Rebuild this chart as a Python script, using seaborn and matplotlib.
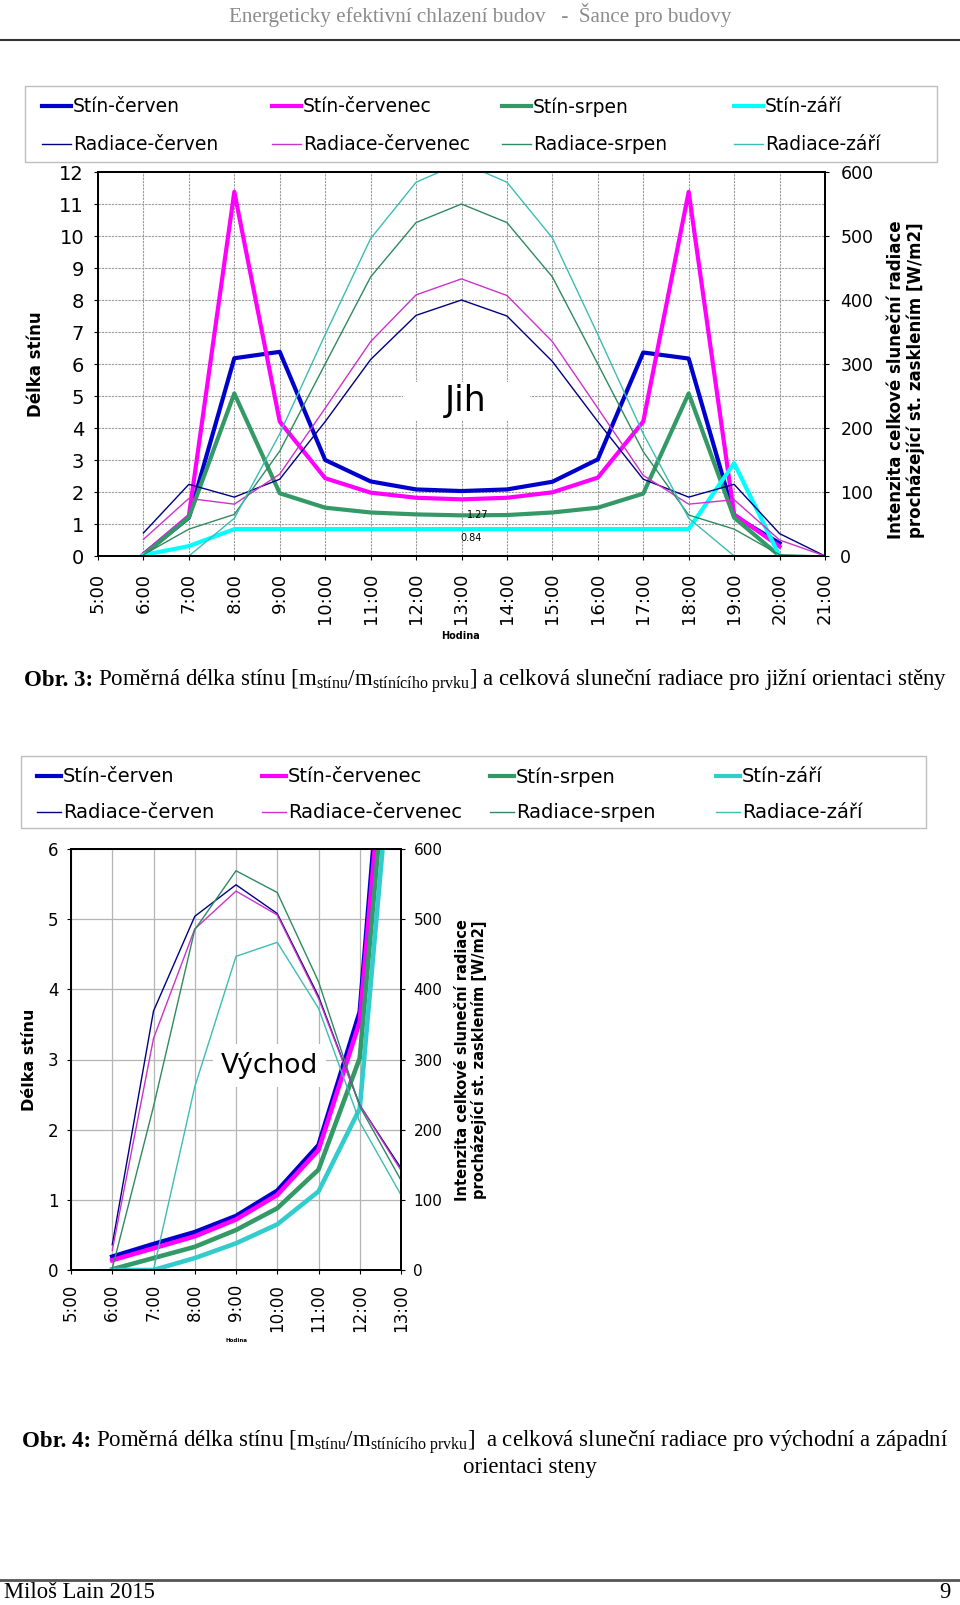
import matplotlib
matplotlib.use("Agg")
import matplotlib.pyplot as plt
import seaborn as sns
from matplotlib.lines import Line2D
from matplotlib.patches import Rectangle

# ---------------- data ----------------
hours_top = list(range(5, 22))
hour_labels_top = [f"{h}:00" for h in hours_top]
stin_hours_top = list(range(6, 21))
rad_hours_top = list(range(6, 22))

# Jih (south) - shadow length [-]
stin_cerven_jih = [0.05, 1.2, 6.18, 6.38, 3.0, 2.33, 2.08, 2.03, 2.08, 2.32, 3.02, 6.36, 6.17, 1.25, 0.4]
stin_cervenec_jih = [0.05, 1.25, 11.38, 4.2, 2.43, 1.98, 1.82, 1.77, 1.82, 1.99, 2.45, 4.2, 11.38, 1.3, 0.3]
stin_srpen_jih = [0.03, 1.21, 5.08, 1.96, 1.51, 1.36, 1.30, 1.27, 1.28, 1.36, 1.51, 1.95, 5.08, 1.2, 0.0]
stin_zari_jih = [0.03, 0.31, 0.84, 0.84, 0.84, 0.84, 0.84, 0.84, 0.84, 0.84, 0.84, 0.84, 0.84, 2.9, 0.0]
# Jih - radiation [W/m2]
rad_cerven_jih = [36, 112, 92, 120, 210, 307, 376, 400, 375, 304, 210, 120, 92, 112, 35, 0]
rad_cervenec_jih = [26, 90, 81, 128, 231, 335, 408, 433, 407, 335, 231, 126, 81, 88, 25, 0]
rad_srpen_jih = [2, 42, 65, 164, 300, 436, 521, 550, 521, 436, 300, 163, 64, 42, 2, 0]
rad_zari_jih = [0, 0, 59, 191, 346, 496, 584, 615, 584, 497, 346, 191, 59, 0, 0, 0]

hours_bot = list(range(5, 14))
hour_labels_bot = [f"{h}:00" for h in hours_bot]
data_hours_bot = list(range(6, 14))
# Vychod (east)
stin_cerven_vych = [0.19, 0.37, 0.54, 0.77, 1.13, 1.78, 3.68, 10.8]
stin_cervenec_vych = [0.14, 0.31, 0.48, 0.72, 1.07, 1.71, 3.54, 10.3]
stin_srpen_vych = [0.01, 0.17, 0.33, 0.57, 0.88, 1.43, 3.02, 9.7]
stin_zari_vych = [0.0, 0.0, 0.17, 0.38, 0.65, 1.12, 2.3, 9.0]
rad_cerven_vych = [36, 369, 504, 549, 508, 390, 235, 145]
rad_cervenec_vych = [28, 330, 486, 540, 506, 387, 235, 142]
rad_srpen_vych = [2, 233, 485, 569, 538, 411, 233, 128]
rad_zari_vych = [0, 0, 261, 447, 467, 373, 211, 107]

months = ["červen", "červenec", "srpen", "září"]

# ---------------- style ----------------
plt.rcParams["font.family"] = ["DejaVu Sans"]
plt.rcParams["mathtext.fontset"] = "custom"
plt.rcParams["mathtext.rm"] = "Liberation Serif"
plt.rcParams["mathtext.it"] = "Liberation Serif:italic"
plt.rcParams["mathtext.bf"] = "Liberation Serif:bold"

W, H = 960, 1605
fig = plt.figure(figsize=(W / 100, H / 100), dpi=100)
fig.patch.set_facecolor("white")
renderer = fig.canvas.get_renderer()


def fx(px):
    return px / W


def fy(py):
    return 1 - py / H


stin_colors_top = ["#0000CC", "#FF00FF", "#339966", "#00FFFF"]
stin_colors_bot = ["#0000CC", "#FF00FF", "#339966", "#33CCCC"]
rad_colors = ["#000080", "#CC33CC", "#2F8A60", "#3CBDB5"]


def draw_chart(rect, xs_all, xlabels, stin_x, stin_sets, rad_x, rad_sets, ymax,
               stin_colors, grid_style, thick, thin, fs):
    ax = fig.add_axes(rect)
    ax.set_axisbelow(True)
    for vals, col in zip(stin_sets, stin_colors):
        sns.lineplot(x=stin_x, y=vals, ax=ax, color=col, linewidth=thick, legend=False)
    ax.set_xlim(xs_all[0], xs_all[-1])
    ax.set_ylim(0, ymax)
    ax.set_yticks(range(0, ymax + 1))
    ax.set_xticks(xs_all)
    ax.set_xticklabels(xlabels, rotation=90)
    ax.grid(True, **grid_style)
    ax2 = ax.twinx()
    for vals, col in zip(rad_sets, rad_colors):
        sns.lineplot(x=rad_x, y=vals, ax=ax2, color=col, linewidth=thin, legend=False)
    ax2.set_ylim(0, 600)
    ax2.set_yticks(range(0, 601, 100))
    ax2.set_xlim(xs_all[0], xs_all[-1])
    for a in (ax, ax2):
        for s in a.spines.values():
            s.set_color("black")
            s.set_linewidth(1.3)
    ax.tick_params(axis="y", labelsize=fs["yl"], length=3, pad=fs["padl"])
    ax.tick_params(axis="x", labelsize=fs["x"], length=3, pad=fs["padx"])
    ax2.tick_params(axis="y", labelsize=fs["yr"], length=3, pad=fs["padr"])
    return ax, ax2


def caption(center_px, y_px, bold_part, rest, size):
    kw = dict(va="baseline", ha="left", fontsize=size, family="Liberation Serif")
    t1 = fig.text(0, fy(y_px), bold_part, fontweight="bold", **kw)
    t2 = fig.text(0, fy(y_px), rest, **kw)
    w1 = t1.get_window_extent(renderer).width
    w2 = t2.get_window_extent(renderer).width
    gap = 5
    start = center_px - (w1 + gap + w2) / 2
    t1.set_x(fx(start))
    t2.set_x(fx(start + w1 + gap))


# ---------------- header / footer ----------------
fig.text(fx(480), fy(15), "Energeticky efektivní chlazení budov   -  Šance pro budovy",
         ha="center", va="center", fontsize=15.2, family="Liberation Serif", color="#8C8C8C")
fig.add_artist(Line2D([0, 1], [fy(40), fy(40)], color="#333333", lw=1.5))
fig.add_artist(Line2D([0, 1], [fy(1580), fy(1580)], color="#555555", lw=2))
fig.text(fx(4), fy(1593), "Miloš Lain 2015", ha="left", va="center", fontsize=16.3,
         family="Liberation Serif")
fig.text(fx(950), fy(1593), "9", ha="right", va="center", fontsize=16.3, family="Liberation Serif")

# ---------------- top chart (Jih) ----------------
top_rect = [fx(98), fy(556), (825 - 98) / W, (556 - 172) / H]
ax, ax2 = draw_chart(
    top_rect, hours_top, hour_labels_top,
    stin_hours_top, [stin_cerven_jih, stin_cervenec_jih, stin_srpen_jih, stin_zari_jih],
    rad_hours_top, [rad_cerven_jih, rad_cervenec_jih, rad_srpen_jih, rad_zari_jih],
    12, stin_colors_top,
    dict(color="#9A9A9A", linestyle=(0, (2, 1)), linewidth=0.8),
    3.0, 1.0, dict(yl=14, x=13, yr=12.5, padl=7, padx=9, padr=8))
ax.set_ylabel("Délka stínu", fontsize=12, fontweight="bold", va="center")
ax.yaxis.set_label_coords((36 - 98) / 727, 0.5)
ax2.set_ylabel("Intenzita celkové sluneční radiace\nprocházející st. zasklením [W/m2]",
               fontsize=12, fontweight="bold", va="center", multialignment="center",
               rotation=90, linespacing=1.05)
ax2.yaxis.set_label_coords((906 - 98) / 727, (556 - 380) / 384)
ax.set_xlabel("Hodina", fontsize=7, fontweight="bold", va="center")
ax.xaxis.set_label_coords(0.499, (556 - 636) / 384)
# "Jih" label with white background
ax.add_patch(Rectangle((11.71, 4.25), 2.8, 1.19, facecolor="white", edgecolor="none", zorder=1))
ax.text(13.1, 4.85, "Jih", fontsize=25, ha="center", va="center", zorder=1.2)
ax.annotate(f"{stin_srpen_jih[7]:.2f}", xy=(13, stin_srpen_jih[7]), xytext=(16, 0),
            textcoords="offset pixels", fontsize=7, ha="center", va="center")
ax.annotate(f"{stin_zari_jih[7]:.2f}", xy=(13, stin_zari_jih[7]), xytext=(10, -9),
            textcoords="offset pixels", fontsize=7, ha="center", va="center")

caption(486, 686, "Obr. 3:",
        r"Poměrná délka stínu [m$_{\mathrm{stínu}}$/m$_{\mathrm{stínícího\ prvku}}$]"
        r" a celková sluneční radiace pro jižní orientaci stěny", 16.5)

# ---------------- bottom chart (Vychod) ----------------
bot_rect = [fx(71), fy(1270), (401 - 71) / W, (1270 - 849) / H]
bx, bx2 = draw_chart(
    bot_rect, hours_bot, hour_labels_bot,
    data_hours_bot, [stin_cerven_vych, stin_cervenec_vych, stin_srpen_vych, stin_zari_vych],
    data_hours_bot, [rad_cerven_vych, rad_cervenec_vych, rad_srpen_vych, rad_zari_vych],
    6, stin_colors_bot,
    dict(color="#B5B5B5", linestyle="-", linewidth=0.9),
    3.3, 1.0, dict(yl=12, x=12, yr=11, padl=6, padx=7, padr=6))
bx.set_ylabel("Délka stínu", fontsize=11.5, fontweight="bold", va="center")
bx.yaxis.set_label_coords((29 - 71) / 330, 0.5)
bx2.set_ylabel("Intenzita celkové sluneční radiace\nprocházející st. zasklením [W/m2]",
               fontsize=10.5, fontweight="bold", va="center", multialignment="center",
               rotation=90, linespacing=1.05)
bx2.yaxis.set_label_coords((471 - 71) / 330, 0.499)
bx.set_xlabel("Hodina", fontsize=4, fontweight="bold", va="center")
bx.xaxis.set_label_coords(0.503, (1270 - 1340) / 421)
bx.text(9.82, 2.92, "Východ", fontsize=19, ha="center", va="center", zorder=1.2,
        bbox=dict(boxstyle="square,pad=0.3", facecolor="white", edgecolor="none"))

caption(485, 1447, "Obr. 4:",
        r"Poměrná délka stínu [m$_{\mathrm{stínu}}$/m$_{\mathrm{stínícího\ prvku}}$]"
        r"  a celková sluneční radiace pro východní a západní", 16.5)
fig.text(fx(530), fy(1468), "orientaci steny", ha="center", va="center", fontsize=16.5,
         family="Liberation Serif")

# ---------------- legends ----------------
def make_legend(box, col_x, row_y, stin_colors, fsize, hlen_px, thick):
    x0, y0, x1, y1 = box
    fig.add_artist(Rectangle((fx(x0), fy(y1)), (x1 - x0) / W, (y1 - y0) / H,
                             transform=fig.transFigure, fill=False, edgecolor="#BEBEBE", lw=1))
    fpx = fsize * 100 / 72
    for i, m in enumerate(months):
        entries = [(f"Stín-{m}", stin_colors[i], thick), (f"Radiace-{m}", rad_colors[i], 1.0)]
        for (lab, col, lw), yy in zip(entries, row_y):
            h = Line2D([], [], color=col, lw=lw)
            fig.legend(handles=[h], labels=[lab], loc="center left",
                       bbox_to_anchor=(fx(col_x[i]), fy(yy)), frameon=False,
                       fontsize=fsize, handlelength=hlen_px / fpx, handletextpad=0.1,
                       borderpad=0, borderaxespad=0)


make_legend((25, 86, 937, 162), [42, 272, 502, 734], [107, 145], stin_colors_top, 13.5, 29, 3.0)
make_legend((21, 756, 926, 828), [37, 262, 490, 716], [777, 813], stin_colors_bot, 14, 24, 3.0)

fig.savefig("out.png", dpi=100, facecolor="white")
